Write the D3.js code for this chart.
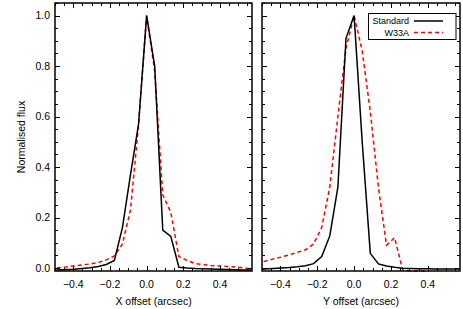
<!DOCTYPE html>
<html>
<head>
<meta charset="utf-8">
<script src="https://cdn.jsdelivr.net/npm/d3@7"></script>
<style>
  body { margin: 0; background: #fff; }
  text { font-family: "Liberation Sans", Arial, Helvetica, sans-serif; fill: #000; }
</style>
</head>
<body>
<svg id="chart" width="463" height="309"></svg>
<script>
// ---- data ----
const offsets = [-0.528,-0.484,-0.44,-0.396,-0.352,-0.308,-0.264,-0.22,-0.176,-0.132,-0.088,-0.044,
  0,0.044,0.088,0.132,0.176,0.22,0.264,0.308,0.352,0.396,0.44,0.484,0.528,0.572];
const xStandard = [-0.01,-0.008,-0.006,-0.005,-0.002,0.001,0.006,0.014,0.03,0.16,0.37,0.57,
  1.0,0.8,0.15,0.125,0.003,0.0,-0.002,-0.003,-0.004,-0.005,-0.006,-0.007,-0.008,-0.008];
const xW33A = [-0.002,0.001,0.004,0.008,0.012,0.016,0.022,0.032,0.048,0.095,0.23,0.57,
  1.0,0.78,0.29,0.22,0.045,0.03,0.018,0.013,0.01,0.008,0.006,0.004,0.0,-0.003];
const yStandard = [-0.006,-0.004,-0.002,0.0,0.002,0.005,0.009,0.017,0.045,0.127,0.32,0.91,
  1.0,0.5,0.058,0.016,0.008,0.003,-0.001,-0.002,-0.003,-0.003,-0.004,-0.004,-0.004,-0.004];
const yW33A = [0.02,0.027,0.035,0.043,0.052,0.062,0.072,0.095,0.16,0.32,0.6,0.87,
  1.0,0.86,0.62,0.32,0.09,0.12,-0.008,-0.012,-0.012,-0.013,-0.03,-0.03,-0.03,-0.03];
const xTicks = [-0.4,-0.2,0.0,0.2,0.4];
const yTicks = [0.0,0.2,0.4,0.6,0.8,1.0];
const seriesNames = ["Standard","W33A"];
const xTitles = ["X offset (arcsec)","Y offset (arcsec)"];
const yTitle = "Normalised flux";

// ---- layout ----
const svg = d3.select("#chart");
const plotTop = 3, plotBottom = 271;
const panels = [
  {x0: 55, x1: 252, std: xStandard, w33: xW33A, title: xTitles[0], yLabels: true},
  {x0: 262, x1: 460, std: yStandard, w33: yW33A, title: xTitles[1], yLabels: false}
];
const y = d3.scaleLinear().domain([-0.012, 1.05]).range([plotBottom, plotTop]);
const fmt = d3.format(".1f");
const minorX = d3.range(-0.5, 0.576, 0.05).map(v => +v.toFixed(2));
const minorY = d3.range(0, 1.051, 0.05).map(v => +v.toFixed(2));

panels.forEach((p, i) => {
  const x = d3.scaleLinear().domain([-0.5, 0.575]).range([p.x0, p.x1]);
  const g = svg.append("g");
  const clipId = "clip" + i;
  svg.append("clipPath").attr("id", clipId).append("rect")
    .attr("x", p.x0).attr("y", plotTop).attr("width", p.x1 - p.x0).attr("height", plotBottom - plotTop + 1);

  const line = d3.line().x((d, k) => x(offsets[k])).y(d => y(d));
  g.append("path").datum(p.w33).attr("d", line).attr("clip-path", `url(#${clipId})`)
    .attr("fill", "none").attr("stroke", "#ff0000").attr("stroke-width", 1.5)
    .attr("stroke-dasharray", "4,3");
  g.append("path").datum(p.std).attr("d", line).attr("clip-path", `url(#${clipId})`)
    .attr("fill", "none").attr("stroke", "#000").attr("stroke-width", 1.5);

  // ticks (inward, all four sides)
  const tk = g.append("g").attr("stroke", "#000").attr("stroke-width", 1);
  minorX.forEach(v => {
    const major = xTicks.some(t => Math.abs(t - v) < 1e-6);
    const L = major ? 5 : 3;
    const xx = Math.round(x(v)) + 0.5;
    tk.append("line").attr("x1", xx).attr("x2", xx).attr("y1", plotBottom).attr("y2", plotBottom - L);
    tk.append("line").attr("x1", xx).attr("x2", xx).attr("y1", plotTop).attr("y2", plotTop + L);
  });
  minorY.forEach(v => {
    const major = yTicks.some(t => Math.abs(t - v) < 1e-6);
    const L = major ? 5 : 3;
    const yy = Math.round(y(v)) + 0.5;
    tk.append("line").attr("x1", p.x0).attr("x2", p.x0 + L).attr("y1", yy).attr("y2", yy);
    tk.append("line").attr("x1", p.x1).attr("x2", p.x1 - L).attr("y1", yy).attr("y2", yy);
  });

  // frame
  g.append("rect").attr("x", p.x0).attr("y", plotTop).attr("width", p.x1 - p.x0).attr("height", plotBottom - plotTop)
    .attr("fill", "none").attr("stroke", "#000").attr("stroke-width", 1.5);

  // x tick labels
  xTicks.forEach(t => {
    g.append("text").attr("x", x(t)).attr("y", 288).attr("text-anchor", "middle")
      .attr("font-size", "10.5px").text(fmt(t));
  });
  g.append("text").attr("x", (p.x0 + p.x1) / 2).attr("y", 305).attr("text-anchor", "middle")
    .attr("font-size", "10.5px").text(p.title);

  if (p.yLabels) {
    yTicks.forEach(t => {
      g.append("text").attr("x", 50).attr("y", y(t)).attr("dy", "0.36em").attr("text-anchor", "end")
        .attr("font-size", "10.5px").text(fmt(t));
    });
    g.append("text").attr("transform", `translate(25,${(plotTop + plotBottom) / 2}) rotate(-90)`)
      .attr("text-anchor", "middle").attr("font-size", "10.5px").text(yTitle);
  }

  if (i === 1) {
    const lg = g.append("g");
    lg.append("rect").attr("x", 368.5).attr("y", 13.5).attr("width", 87.5).attr("height", 26)
      .attr("fill", "#fff").attr("stroke", "#000").attr("stroke-width", 1);
    const rows = [{name: seriesNames[0], y: 21, color: "#000", dash: null},
                  {name: seriesNames[1], y: 32.5, color: "#ff0000", dash: "4,3"}];
    rows.forEach(r => {
      lg.append("text").attr("x", 409).attr("y", r.y).attr("dy", "0.35em").attr("text-anchor", "end")
        .attr("font-size", "9px").text(r.name);
      lg.append("line").attr("x1", 414).attr("x2", 443).attr("y1", r.y).attr("y2", r.y)
        .attr("stroke", r.color).attr("stroke-width", 1.5).attr("stroke-dasharray", r.dash);
    });
  }
});
</script>
</body>
</html>
